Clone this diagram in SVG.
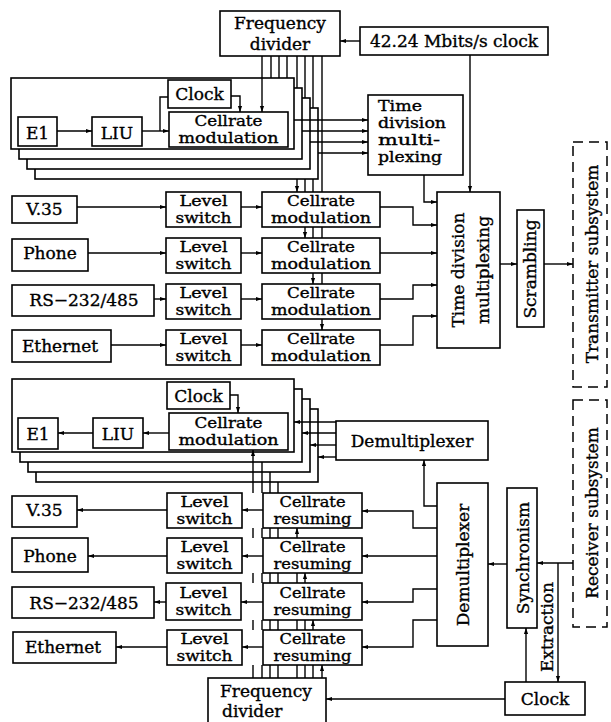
<svg xmlns="http://www.w3.org/2000/svg" width="611" height="722" viewBox="0 0 611 722">
<style>
.b{fill:#fff;stroke:#000;stroke-width:1.6}
.d{fill:none;stroke:#000;stroke-width:1.5;stroke-dasharray:10 6}
.c{fill:none;stroke:#000;stroke-width:1.4}
.a{marker-end:url(#ah)}
text{font-family:"DejaVu Serif","Liberation Serif",serif;font-size:17px;fill:#000;stroke:#000;stroke-width:0.35}
.s{font-size:14.5px}
.m{text-anchor:middle}
</style>
<defs>
<marker id="ah" viewBox="0 0 10 10" refX="10" refY="5" markerWidth="6" markerHeight="6" markerUnits="userSpaceOnUse" orient="auto"><path d="M0,1.5 L10,5 L0,8.5 z" fill="#000"/></marker>
</defs>

<g id="fd_top"><rect class="b" x="220" y="11" width="120" height="45"/><text class="m" x="280" y="29">Frequency</text><text class="m" x="280" y="50">divider</text></g>
<g id="clk42"><rect class="b" x="360" y="27" width="188" height="28"/><text class="m" x="454" y="47">42.24 Mbits/s clock</text></g>

<g id="tx_stack">
<rect class="b" x="35" y="108" width="283" height="71"/>
<rect class="b" x="27" y="98" width="283" height="71"/>
<rect class="b" x="19" y="88" width="283" height="71"/>
<rect class="b" x="11" y="78" width="283" height="71"/>
</g>
<g id="e1_t"><rect class="b" x="18" y="117" width="39" height="29"/><text class="m" x="37.5" y="139">E1</text></g>
<g id="liu_t"><rect class="b" x="92" y="117" width="50" height="29"/><text class="m" x="117" y="139">LIU</text></g>
<g id="clk_t"><rect class="b" x="168" y="80" width="63" height="28"/><text class="m" x="199.5" y="100">Clock</text></g>
<g id="cm_t"><rect class="b" x="169" y="112" width="119" height="35"/><text class="m s" x="228.5" y="126" textLength="68" lengthAdjust="spacingAndGlyphs">Cellrate</text><text class="m s" x="228.5" y="143" textLength="100" lengthAdjust="spacingAndGlyphs">modulation</text></g>

<g id="tdm_small"><rect class="b" x="368" y="95" width="95" height="80"/>
<text class="s" x="378" y="111" textLength="44" lengthAdjust="spacingAndGlyphs">Time</text>
<text class="s" x="378" y="128" textLength="68" lengthAdjust="spacingAndGlyphs">division</text>
<text class="s" x="378" y="145" textLength="62" lengthAdjust="spacingAndGlyphs">multi-</text>
<text class="s" x="378" y="162" textLength="64" lengthAdjust="spacingAndGlyphs">plexing</text></g>

<g id="v35_in"><rect class="b" x="12" y="196" width="65" height="27"/><text class="m" x="44.5" y="215">V.35</text></g>
<g id="phone_in"><rect class="b" x="12" y="239" width="76" height="32"/><text class="m" x="50" y="259">Phone</text></g>
<g id="rs_in"><rect class="b" x="12" y="285" width="142" height="31"/><text class="m" x="84" y="306">RS−232/485</text></g>
<g id="eth_in"><rect class="b" x="12" y="330" width="99" height="32"/><text class="m" x="60" y="352">Ethernet</text></g>

<g id="ls_t1"><rect class="b" x="166" y="192" width="75" height="35"/><text class="m s" x="203.5" y="206" textLength="48" lengthAdjust="spacingAndGlyphs">Level</text><text class="m s" x="203.5" y="223" textLength="56" lengthAdjust="spacingAndGlyphs">switch</text></g>
<g id="ls_t2"><rect class="b" x="166" y="238" width="75" height="35"/><text class="m s" x="203.5" y="252" textLength="48" lengthAdjust="spacingAndGlyphs">Level</text><text class="m s" x="203.5" y="269" textLength="56" lengthAdjust="spacingAndGlyphs">switch</text></g>
<g id="ls_t3"><rect class="b" x="166" y="284" width="75" height="35"/><text class="m s" x="203.5" y="298" textLength="48" lengthAdjust="spacingAndGlyphs">Level</text><text class="m s" x="203.5" y="315" textLength="56" lengthAdjust="spacingAndGlyphs">switch</text></g>
<g id="ls_t4"><rect class="b" x="166" y="330" width="75" height="35"/><text class="m s" x="203.5" y="344" textLength="48" lengthAdjust="spacingAndGlyphs">Level</text><text class="m s" x="203.5" y="361" textLength="56" lengthAdjust="spacingAndGlyphs">switch</text></g>

<g id="cm_1"><rect class="b" x="262" y="192" width="118" height="35"/><text class="m s" x="321" y="206" textLength="68" lengthAdjust="spacingAndGlyphs">Cellrate</text><text class="m s" x="321" y="223" textLength="100" lengthAdjust="spacingAndGlyphs">modulation</text></g>
<g id="cm_2"><rect class="b" x="262" y="238" width="118" height="35"/><text class="m s" x="321" y="252" textLength="68" lengthAdjust="spacingAndGlyphs">Cellrate</text><text class="m s" x="321" y="269" textLength="100" lengthAdjust="spacingAndGlyphs">modulation</text></g>
<g id="cm_3"><rect class="b" x="262" y="284" width="118" height="35"/><text class="m s" x="321" y="298" textLength="68" lengthAdjust="spacingAndGlyphs">Cellrate</text><text class="m s" x="321" y="315" textLength="100" lengthAdjust="spacingAndGlyphs">modulation</text></g>
<g id="cm_4"><rect class="b" x="262" y="330" width="118" height="35"/><text class="m s" x="321" y="344" textLength="68" lengthAdjust="spacingAndGlyphs">Cellrate</text><text class="m s" x="321" y="361" textLength="100" lengthAdjust="spacingAndGlyphs">modulation</text></g>

<g id="tdm_big"><rect class="b" x="437" y="192" width="63" height="156"/><text class="m" transform="translate(464,270) rotate(-90)">Time division</text><text class="m" transform="translate(489,270) rotate(-90)">multiplexing</text></g>
<g id="scr"><rect class="b" x="517" y="210" width="27" height="117"/><text class="m" transform="translate(536,269) rotate(-90)">Scrambling</text></g>
<g id="tx"><rect class="d" x="573" y="142" width="34" height="245"/><text class="m" transform="translate(598,264) rotate(-90)">Transmitter subsystem</text></g>

<g id="rx_stack">
<rect class="b" x="36" y="409" width="282" height="73"/>
<rect class="b" x="28" y="399" width="282" height="73"/>
<rect class="b" x="20" y="389" width="282" height="73"/>
<rect class="b" x="12" y="379" width="282" height="73"/>
</g>
<g id="clk_b"><rect class="b" x="167" y="382" width="63" height="27"/><text class="m" x="198.5" y="402">Clock</text></g>
<g id="cm_b"><rect class="b" x="169" y="413" width="119" height="37"/><text class="m s" x="228.5" y="428" textLength="68" lengthAdjust="spacingAndGlyphs">Cellrate</text><text class="m s" x="228.5" y="445" textLength="100" lengthAdjust="spacingAndGlyphs">modulation</text></g>
<g id="liu_b"><rect class="b" x="93" y="418" width="50" height="30"/><text class="m" x="118" y="440">LIU</text></g>
<g id="e1_b"><rect class="b" x="18" y="418" width="40" height="31"/><text class="m" x="38" y="440">E1</text></g>

<g id="demux_h"><rect class="b" x="336" y="421" width="152" height="39"/><text class="m" x="412" y="447">Demultiplexer</text></g>
<g id="demux_v"><rect class="b" x="437" y="483" width="51" height="163"/><text class="m" transform="translate(469,565) rotate(-90)">Demultiplexer</text></g>
<g id="sync"><rect class="b" x="507" y="488" width="30" height="140"/><text class="m" transform="translate(529,558) rotate(-90)">Synchronism</text></g>
<g id="rx"><rect class="d" x="573" y="400" width="34" height="227"/><text class="m" transform="translate(598,513) rotate(-90)">Receiver subsystem</text></g>

<g id="v35_out"><rect class="b" x="12" y="496" width="65" height="31"/><text class="m" x="44.5" y="516">V.35</text></g>
<g id="phone_out"><rect class="b" x="12" y="538" width="76" height="34"/><text class="m" x="50" y="562">Phone</text></g>
<g id="rs_out"><rect class="b" x="12" y="587" width="142" height="31"/><text class="m" x="84" y="609">RS−232/485</text></g>
<g id="eth_out"><rect class="b" x="13" y="632" width="103" height="31"/><text class="m" x="63" y="653">Ethernet</text></g>

<g id="ls_b1"><rect class="b" x="167" y="493" width="75" height="35"/><text class="m s" x="204.5" y="507" textLength="48" lengthAdjust="spacingAndGlyphs">Level</text><text class="m s" x="204.5" y="524" textLength="56" lengthAdjust="spacingAndGlyphs">switch</text></g>
<g id="ls_b2"><rect class="b" x="167" y="538" width="75" height="35"/><text class="m s" x="204.5" y="552" textLength="48" lengthAdjust="spacingAndGlyphs">Level</text><text class="m s" x="204.5" y="569" textLength="56" lengthAdjust="spacingAndGlyphs">switch</text></g>
<g id="ls_b3"><rect class="b" x="166" y="583" width="75" height="37"/><text class="m s" x="203.5" y="598" textLength="48" lengthAdjust="spacingAndGlyphs">Level</text><text class="m s" x="203.5" y="615" textLength="56" lengthAdjust="spacingAndGlyphs">switch</text></g>
<g id="ls_b4"><rect class="b" x="167" y="630" width="75" height="35"/><text class="m s" x="204.5" y="644" textLength="48" lengthAdjust="spacingAndGlyphs">Level</text><text class="m s" x="204.5" y="661" textLength="56" lengthAdjust="spacingAndGlyphs">switch</text></g>

<g id="cr_1"><rect class="b" x="263" y="493" width="99" height="35"/><text class="m s" x="312.5" y="507" textLength="66" lengthAdjust="spacingAndGlyphs">Cellrate</text><text class="m s" x="312.5" y="524" textLength="78" lengthAdjust="spacingAndGlyphs">resuming</text></g>
<g id="cr_2"><rect class="b" x="263" y="538" width="99" height="35"/><text class="m s" x="312.5" y="552" textLength="66" lengthAdjust="spacingAndGlyphs">Cellrate</text><text class="m s" x="312.5" y="569" textLength="78" lengthAdjust="spacingAndGlyphs">resuming</text></g>
<g id="cr_3"><rect class="b" x="263" y="583" width="99" height="37"/><text class="m s" x="312.5" y="598" textLength="66" lengthAdjust="spacingAndGlyphs">Cellrate</text><text class="m s" x="312.5" y="615" textLength="78" lengthAdjust="spacingAndGlyphs">resuming</text></g>
<g id="cr_4"><rect class="b" x="263" y="630" width="99" height="35"/><text class="m s" x="312.5" y="644" textLength="66" lengthAdjust="spacingAndGlyphs">Cellrate</text><text class="m s" x="312.5" y="661" textLength="78" lengthAdjust="spacingAndGlyphs">resuming</text></g>

<g id="fd_bot"><rect class="b" x="208" y="678" width="118" height="50"/><text x="220" y="697">Frequency</text><text x="222" y="717">divider</text></g>
<g id="clk_rx"><rect class="b" x="505" y="682" width="80" height="33"/><text class="m" x="545" y="705">Clock</text></g>
<text class="m" transform="translate(553,627) rotate(-90)">Extraction</text>

<g id="connectors">
<path class="c a" d="M360,41 H340"/>
<path class="c a" d="M470,55 V192"/>
<path class="c a" d="M262,56 V112"/>
<path class="c" d="M271,56 V78 M279,56 V78 M287,56 V78"/>
<path class="c a" d="M297,56 V88 M297,179 V192"/>
<path class="c a" d="M305,56 V98 M305,179 V192 M305,227 V238"/>
<path class="c a" d="M313,56 V108 M313,179 V192 M313,227 V238 M313,273 V284"/>
<path class="c a" d="M322,56 V192 M322,227 V238 M322,273 V284 M322,319 V330"/>
<path class="c a" d="M57,131 H92"/>
<path class="c a" d="M142,131 H169"/>
<path class="c" d="M160,131 V97 H168"/>
<path class="c a" d="M231,96 H240 V112"/>
<path class="c a" d="M294,120 H368"/>
<path class="c a" d="M302,131 H368"/>
<path class="c a" d="M310,142 H368"/>
<path class="c a" d="M318,153 H368"/>
<path class="c a" d="M424,175 V202 H437"/>
<path class="c a" d="M77,207 H166"/>
<path class="c a" d="M88,253 H166"/>
<path class="c a" d="M154,299 H166"/>
<path class="c a" d="M111,345 H166"/>
<path class="c a" d="M241,207 H262"/>
<path class="c a" d="M241,253 H262"/>
<path class="c a" d="M241,299 H262"/>
<path class="c a" d="M241,345 H262"/>
<path class="c a" d="M380,207 H413 V225 H437"/>
<path class="c a" d="M380,253 H437"/>
<path class="c a" d="M380,299 H413 V285 H437"/>
<path class="c a" d="M380,345 H413 V316 H437"/>
<path class="c a" d="M500,264 H517"/>
<path class="c a" d="M544,264 H573"/>

<path class="c a" d="M169,433 H143"/>
<path class="c a" d="M93,433 H58"/>
<path class="c a" d="M230,395 H238 V413"/>
<path class="c a" d="M336,422 H294"/>
<path class="c a" d="M336,433 H302"/>
<path class="c a" d="M336,445 H310"/>
<path class="c a" d="M336,457 H318"/>
<path class="c a" d="M437,506 H424 V460"/>
<path class="c a" d="M437,528 H413 V511 H362"/>
<path class="c a" d="M437,556 H362"/>
<path class="c a" d="M437,589 H413 V602 H362"/>
<path class="c a" d="M437,620 H413 V647 H362"/>
<path class="c a" d="M263,510 H242"/>
<path class="c a" d="M263,556 H242"/>
<path class="c a" d="M263,602 H241"/>
<path class="c a" d="M263,647 H242"/>
<path class="c a" d="M167,510 H77"/>
<path class="c a" d="M167,556 H88"/>
<path class="c a" d="M166,602 H154"/>
<path class="c a" d="M167,647 H116"/>
<path class="c a" d="M507,564 H488"/>
<path class="c a" d="M573,563 H537"/>
<path class="c a" d="M558,563 V682"/>
<path class="c a" d="M526,682 V628"/>
<path class="c a" d="M505,699 H326"/>
<path class="c a" d="M253,678 V665 M253,630 V620 M253,583 V573 M253,538 V528 M253,493 V450"/>
<path class="c" d="M262,678 V665 M262,630 V620 M262,583 V573 M262,538 V528 M262,493 V462"/>
<path class="c" d="M270,678 V665 M270,630 V620 M270,583 V573 M270,538 V528 M270,493 V472"/>
<path class="c" d="M278,678 V665 M278,630 V620 M278,583 V573 M278,538 V528 M278,493 V482"/>
<path class="c a" d="M297,678 V665 M297,630 V620 M297,583 V573 M297,538 V528"/>
<path class="c a" d="M305,678 V665 M305,630 V620 M305,583 V573"/>
<path class="c a" d="M313,678 V665 M313,630 V620"/>
<path class="c a" d="M322,678 V665"/>
</g>
</svg>
